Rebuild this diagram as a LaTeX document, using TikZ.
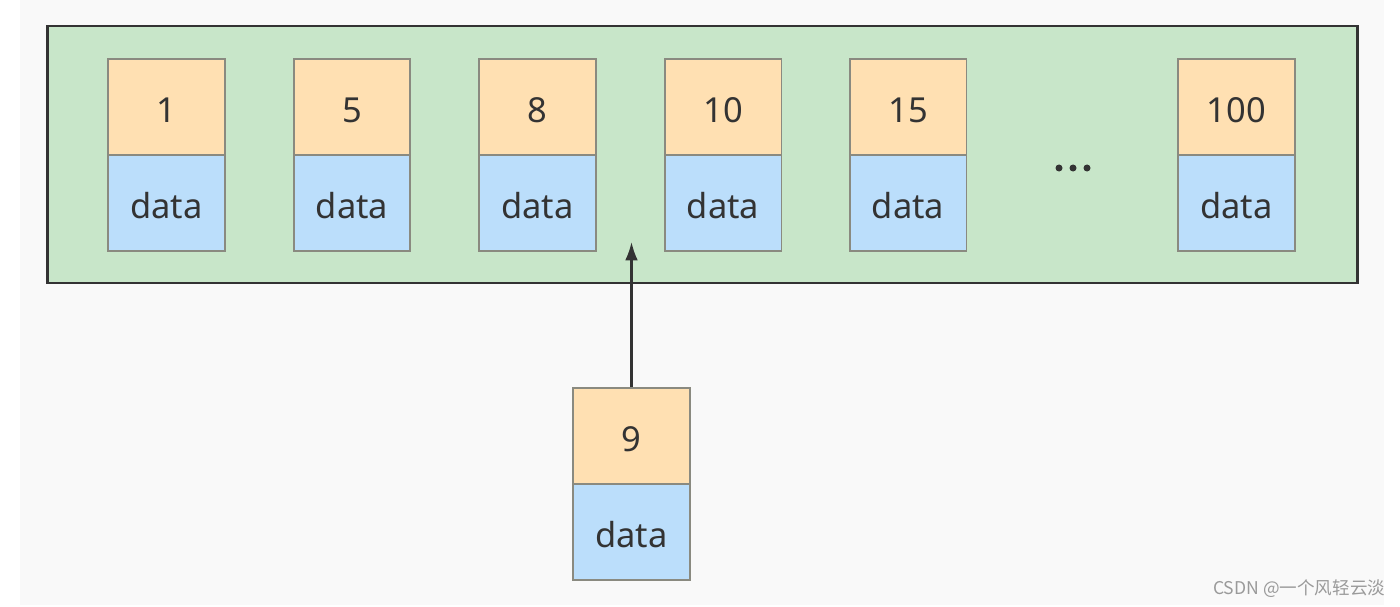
\documentclass[tikz,border=0pt]{standalone}
\usepackage{fontspec}
\setmainfont{Noto Sans}
\newfontfamily\cjk{Noto Sans CJK SC}
\usetikzlibrary{arrows.meta}
\definecolor{bggray}{HTML}{F9F9F9}
\definecolor{framegreen}{HTML}{C8E6C9}
\definecolor{keyorange}{HTML}{FFE0B2}
\definecolor{datablue}{HTML}{BBDEFB}
\definecolor{edgegray}{HTML}{8A8A80}
\definecolor{inkdark}{HTML}{333333}
\definecolor{wmgray}{HTML}{9A9A9A}
\tikzset{
  keybox/.style={rectangle, draw=edgegray, line width=0.45pt, fill=keyorange,
    minimum width=1.165cm, minimum height=0.96cm, inner sep=0pt,
    text height=9pt, text depth=0pt,
    text=inkdark, font=\fontsize{9.8pt}{11pt}\selectfont},
  databox/.style={keybox, fill=datablue},
  frame/.style={rectangle, draw=inkdark, line width=0.75pt, fill=framegreen,
    minimum width=13.09cm, minimum height=2.57cm, inner sep=0pt},
  link/.style={draw=inkdark, line width=0.6pt,
    -{Latex[length=5.2pt,width=3.6pt]}},
  dot/.style={circle, fill=inkdark, inner sep=0pt, minimum size=0.07cm},
  mark text/.style={text=wmgray, font=\cjk\fontsize{5pt}{6pt}\selectfont, inner sep=0pt}
}
\begin{document}
\begin{tikzpicture}[x=0.01cm, y=-0.01cm]
  \useasboundingbox (0,0) rectangle (1400,606);
  \fill[white] (0,0) rectangle (1400,606);
  \fill[bggray] (20,0) rectangle (1384,605);
  \node[frame] (frame) at (702.5,154.5) {};
  \foreach \k/\x in {1/166.5, 5/352, 8/537.5, 10/723, 15/908, 100/1236.5}{
    \node[keybox] (k\k) at (\x,107) {\k};
    \node[databox] (d\k) at (\x,203) {data};
  }
  \node[dot] (dota) at (1059,168) {};
  \node[dot] (dotb) at (1073,168) {};
  \node[dot] (dotc) at (1087,168) {};
  \node[keybox] (k9) at (631.5,436) {9};
  \node[databox] (d9) at (631.5,532) {data};
  \coordinate (slot) at (631.5,242);
  \draw[link] (k9.north) -- (slot);
  \node[mark text, anchor=east] (wm) at (1386,589) {CSDN @一个风轻云淡};
\end{tikzpicture}
\end{document}
